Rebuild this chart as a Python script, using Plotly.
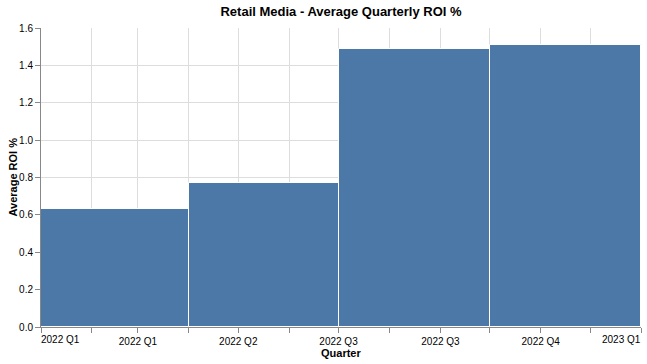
import plotly.graph_objects as go
import pandas as pd

# Data
quarter_starts = ["2022-01-01", "2022-04-01", "2022-07-01", "2022-10-01"]
quarter_ends = ["2022-04-01", "2022-07-01", "2022-10-01", "2023-01-01"]
avg_roi = [0.63, 0.77, 1.49, 1.51]
tick_months = [d.strftime("%Y-%m-%d") for d in pd.date_range("2022-01-01", "2023-01-01", freq="MS")]
tick_labels = ["2022 Q1", "", "2022 Q1", "", "2022 Q2", "", "2022 Q3", "", "2022 Q3", "", "2022 Q4", "", "2023 Q1"]

starts = pd.to_datetime(quarter_starts)
ends = pd.to_datetime(quarter_ends)
widths_ms = [(e - s).total_seconds() * 1000 for s, e in zip(starts, ends)]

FONT = "Liberation Sans, Arial, Helvetica, sans-serif"
W, H = 647, 364
L, R, T, B = 41, 6, 28, 37

fig = go.Figure()
fig.add_trace(go.Bar(
    x=quarter_starts,
    y=avg_roi,
    width=widths_ms,
    offset=0,
    marker=dict(color="#4c78a8", line=dict(color="white", width=1)),
))

mid_text = [t if 0 < i < len(tick_labels) - 1 else "" for i, t in enumerate(tick_labels)]

fig.update_layout(
    width=W, height=H,
    margin=dict(l=L, r=R, t=T, b=B, autoexpand=False),
    plot_bgcolor="white", paper_bgcolor="white",
    showlegend=False,
    bargap=0,
    font=dict(family=FONT, size=10, color="#000"),
    title=dict(text="<b>Retail Media - Average Quarterly ROI %</b>",
               x=0.5, xref="paper", xanchor="center",
               y=1 - 11 / H, yref="container", yanchor="middle",
               font=dict(family=FONT, size=13, color="#000")),
    xaxis=dict(
        type="date", automargin=False,
        range=[tick_months[0], tick_months[-1]],
        tickmode="array", tickvals=tick_months, ticktext=mid_text,
        showgrid=True, gridcolor="#dddddd", gridwidth=1,
        showline=True, linecolor="#888888", linewidth=1,
        ticks="outside", ticklen=5, tickcolor="#888888",
        tickfont=dict(family=FONT, size=10, color="#000"),
        zeroline=False,
    ),
    yaxis=dict(
        automargin=False,
        range=[0, 1.6], dtick=0.2, tick0=0, tickformat=".1f",
        showgrid=True, gridcolor="#dddddd", gridwidth=1,
        showline=True, linecolor="#888888", linewidth=1,
        ticks="outside", ticklen=5, tickcolor="#888888",
        tickfont=dict(family=FONT, size=10, color="#000"),
        zeroline=False,
    ),
)

# Flush first/last x tick labels
fig.add_annotation(x=tick_months[0], y=0, xref="x", yref="paper",
                   text=tick_labels[0], showarrow=False,
                   xanchor="left", yanchor="top", yshift=-5, xshift=-2,
                   font=dict(family=FONT, size=10, color="#000"))
fig.add_annotation(x=tick_months[-1], y=0, xref="x", yref="paper",
                   text=tick_labels[-1], showarrow=False,
                   xanchor="right", yanchor="top", yshift=-5, xshift=2,
                   font=dict(family=FONT, size=10, color="#000"))

# Axis titles
fig.add_annotation(x=0.5, xref="paper", y=(H - 353 - B) / (H - T - B), yref="paper",
                   text="<b>Quarter</b>", showarrow=False,
                   xanchor="center", yanchor="middle",
                   font=dict(family=FONT, size=11, color="#000"))
fig.add_annotation(x=(12 - L) / (W - L - R), xref="paper", y=0.5, yref="paper",
                   text="<b>Average ROI %</b>", showarrow=False, textangle=-90,
                   xanchor="center", yanchor="middle",
                   font=dict(family=FONT, size=11, color="#000"))

fig.write_html("out.html", config={"displayModeBar": False},
               post_script="document.body.style.margin='0';")
